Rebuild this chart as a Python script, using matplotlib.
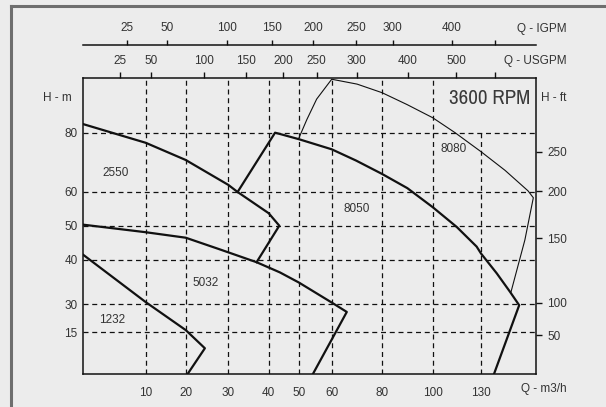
import numpy as np
import matplotlib
matplotlib.use('Agg')
import matplotlib.pyplot as plt
from matplotlib.lines import Line2D
from matplotlib import font_manager

plt.rcParams['font.family'] = ['Liberation Sans', 'DejaVu Sans']

# ---- data ----
# pump curves, Q in m3/h, H in m
c1232_q = [0, 10, 20, 24.5, 20.4]
c1232_h = [41.5, 30.5, 16.2, 9.3, 0]

c5032_q = [0, 10, 20, 28, 37, 43.7, 50, 60, 66, 54.2]
c5032_h = [50.3, 48.1, 46.5, 43.1, 39.5, 37.2, 34.9, 30.4, 25.9, 0]

c2550_q = [0, 10, 20, 30, 32.3, 40, 43.5, 37]
c2550_h = [82.8, 76.6, 70.8, 62.4, 60, 53.7, 50, 39.5]

c8050_q = [32.3, 42.1, 43.6, 50, 60, 69.7, 80, 90, 100, 115, 127.3, 130, 140, 148.5, 154.3, 138.2]
c8050_h = [60, 80, 79.6, 77.8, 74.4, 70.6, 66.1, 61.3, 55.5, 49.6, 43.9, 41.9, 37.0, 32.8, 29.5, 0]

c8080_q = [49.8, 52.4, 55.4, 60, 70.1, 80, 89.9, 100, 113.9, 130, 145.3, 159.9, 163.3, 157.9, 149.1]
c8080_h = [77.8, 84.3, 91.0, 97.5, 95.9, 93.1, 89.2, 84.9, 80, 73.6, 67.3, 60.4, 58.3, 45.8, 32.8]

model_names = ['2550', '5032', '1232', '8050', '8080']

q_ticks = [10, 20, 30, 40, 50, 60, 80, 100, 130]
h_ticks = [15, 30, 40, 50, 60, 80]
ft_ticks = [50, 100, 150, 200, 250]
usgpm_ticks = [25, 50, 100, 150, 200, 250, 300, 400, 500, 600]
igpm_ticks = [25, 50, 100, 150, 200, 250, 300, 400, 500]

# ---- layout: the chart uses uneven axis spacing, so each axis gets
# a piecewise scale (value -> pixel position inside the plot box) ----
W, H = 606, 407
X0, X1 = 83.3, 536.0
Y0, Y1 = 374.3, 77.7

x_vals = [0, 10, 20, 30, 40, 50, 60, 80, 100, 130, 165]
x_pix = [83.3, 145.7, 185.7, 228.3, 268.7, 299, 331.7, 382, 432.7, 481, 536]
y_vals = [0, 15, 30, 40, 50, 60, 80, 98]
y_pix = [374.3, 332.3, 304.3, 260, 225.7, 192, 132.7, 77.7]
ft_vals = [0, 50, 100, 150, 200, 250, 330]
ft_pix = [374.3, 335.3, 302.7, 238.3, 191, 151.7, 77.7]
us_vals = [0, 25, 50, 100, 150, 200, 250, 300, 400, 500, 600, 700]
us_pix = [83.3, 120.3, 150.7, 203.7, 245.7, 283.3, 316.7, 356.7, 407.7, 456, 495.3, 536]
ig_vals = [0, 25, 50, 100, 150, 200, 250, 300, 400, 500, 600]
ig_pix = [83.3, 127.3, 167, 226.7, 272.3, 313.3, 356, 392.7, 451.7, 495.3, 536]


def piecewise(vals, pix, flip=False):
    v = np.asarray(vals, float)
    p = np.asarray(pix, float)
    if flip:
        p = -p
    fwd = lambda a: np.interp(a, v, p)
    inv = lambda a: np.interp(a, p, v)
    return fwd, inv


bg = '#ececec'
ink = '#111111'
txt = '#333333'
fs = 8.5

fig = plt.figure(figsize=(W / 100, H / 100), dpi=100, facecolor=bg)
box = [X0 / W, 1 - Y0 / H, (X1 - X0) / W, (Y0 - Y1) / H]
ax = fig.add_axes(box)
ax.set_facecolor(bg)
ax.set_xscale('function', functions=piecewise(x_vals, x_pix))
ax.set_yscale('function', functions=piecewise(y_vals, y_pix, flip=True))
ax.set_xlim(x_vals[0], x_vals[-1])
ax.set_ylim(y_vals[0], y_vals[-1])

dash = (0, (4, 3))
for h in h_ticks:
    ax.axhline(h, color=ink, lw=0.9, ls=dash, zorder=1)
for q in q_ticks[:-1]:
    ax.axvline(q, color=ink, lw=0.9, ls=dash, zorder=1)
ax.plot([q_ticks[-1], q_ticks[-1]], [0, 80], color=ink, lw=0.9, ls=dash, zorder=1)

ax.plot(c1232_q, c1232_h, color=ink, lw=1.6, zorder=3)
ax.plot(c5032_q, c5032_h, color=ink, lw=1.6, zorder=3)
ax.plot(c2550_q, c2550_h, color=ink, lw=1.6, zorder=3)
ax.plot(c8050_q, c8050_h, color=ink, lw=1.6, zorder=3)
ax.plot(c8080_q, c8080_h, color=ink, lw=0.8, zorder=3)

# model labels
lab_pos = [(116, 173), (206, 283.3), (112, 320), (357, 209.3), (454, 149)]
for name, (px, py) in zip(model_names, lab_pos):
    fig.text(px / W, 1 - py / H, name, ha='center', va='center', fontsize=fs, color=txt)

ax.set_xticks(q_ticks)
ax.set_xticklabels([str(q) for q in q_ticks])
ax.set_yticks(h_ticks)
ax.set_yticklabels([str(h) for h in h_ticks])
ax.tick_params(axis='x', length=0, pad=9, labelsize=fs, labelcolor=txt)
ax.tick_params(axis='y', length=0, pad=4, labelsize=fs, labelcolor=txt)
ax.minorticks_off()
for s in ax.spines.values():
    s.set_color(ink)
    s.set_linewidth(1.1)

# right axis in feet
axr = ax.twinx()
axr.set_yscale('function', functions=piecewise(ft_vals, ft_pix, flip=True))
axr.set_ylim(ft_vals[0], ft_vals[-1])
axr.set_yticks(ft_ticks)
axr.set_yticklabels([str(f) for f in ft_ticks])
axr.tick_params(axis='y', length=4, width=1, color=ink, pad=4, labelsize=fs, labelcolor=txt)
axr.minorticks_off()
for s in axr.spines.values():
    s.set_visible(False)

# top axis in USGPM (on the plot box)
axu = ax.twiny()
axu.set_xscale('function', functions=piecewise(us_vals, us_pix))
axu.set_xlim(us_vals[0], us_vals[-1])
axu.set_xticks(usgpm_ticks)
axu.set_xticklabels([str(u) for u in usgpm_ticks[:-1]] + [''])
axu.tick_params(axis='x', length=4.5, width=1, color=ink, pad=3, labelsize=fs, labelcolor=txt)
axu.minorticks_off()
for s in axu.spines.values():
    s.set_visible(False)

# separate IGPM axis line above
axi = fig.add_axes([X0 / W, 1 - 44.7 / H, (X1 - X0) / W, 1e-4])
axi.set_xscale('function', functions=piecewise(ig_vals, ig_pix))
axi.set_xlim(ig_vals[0], ig_vals[-1])
axi.patch.set_visible(False)
for k in ['left', 'right', 'bottom']:
    axi.spines[k].set_visible(False)
axi.spines['top'].set_color(ink)
axi.spines['top'].set_linewidth(1.1)
axi.set_yticks([])
axi.xaxis.tick_top()
axi.set_xticks(igpm_ticks)
axi.set_xticklabels([str(g) for g in igpm_ticks[:-1]] + [''])
axi.tick_params(axis='x', length=3.5, width=1, color=ink, pad=4, labelsize=fs, labelcolor=txt)
axi.minorticks_off()

# axis titles
fig.text(57 / W, 1 - 98 / H, 'H - m', ha='center', va='center', fontsize=fs, color=txt)
fig.text(541 / W, 1 - 98 / H, 'H - ft', ha='left', va='center', fontsize=fs, color=txt)
fig.text(567 / W, 1 - 29 / H, 'Q - IGPM', ha='right', va='center', fontsize=fs, color=txt)
fig.text(567 / W, 1 - 61 / H, 'Q - USGPM', ha='right', va='center', fontsize=fs, color=txt)
fig.text(520.7 / W, 1 - 389 / H, 'Q - m3/h', ha='left', va='center', fontsize=fs, color=txt)

# condensed face for the speed label, if one is installed
narrow = [f.name for f in font_manager.fontManager.ttflist
          if any(k in f.name for k in ('Condensed', 'Narrow'))]
rpm_family = sorted(set(narrow))[:1] + ['Liberation Sans', 'DejaVu Sans']
rpm_size = 15 if narrow else 12
fig.text(530 / W, 1 - 99 / H, '3600 RPM', ha='right', va='center', fontsize=rpm_size,
         color='#3a3a3a', family=rpm_family, fontweight='light')

# outer frame (left and top edges)
fig.add_artist(Line2D([11 / W, 11 / W], [0, 1 - 6 / H], transform=fig.transFigure,
                      color='#6e6e6e', lw=2.2))
fig.add_artist(Line2D([11 / W, 1], [1 - 6 / H, 1 - 6 / H], transform=fig.transFigure,
                      color='#6e6e6e', lw=2.2))

fig.savefig('out.png', dpi=100, facecolor=bg)
